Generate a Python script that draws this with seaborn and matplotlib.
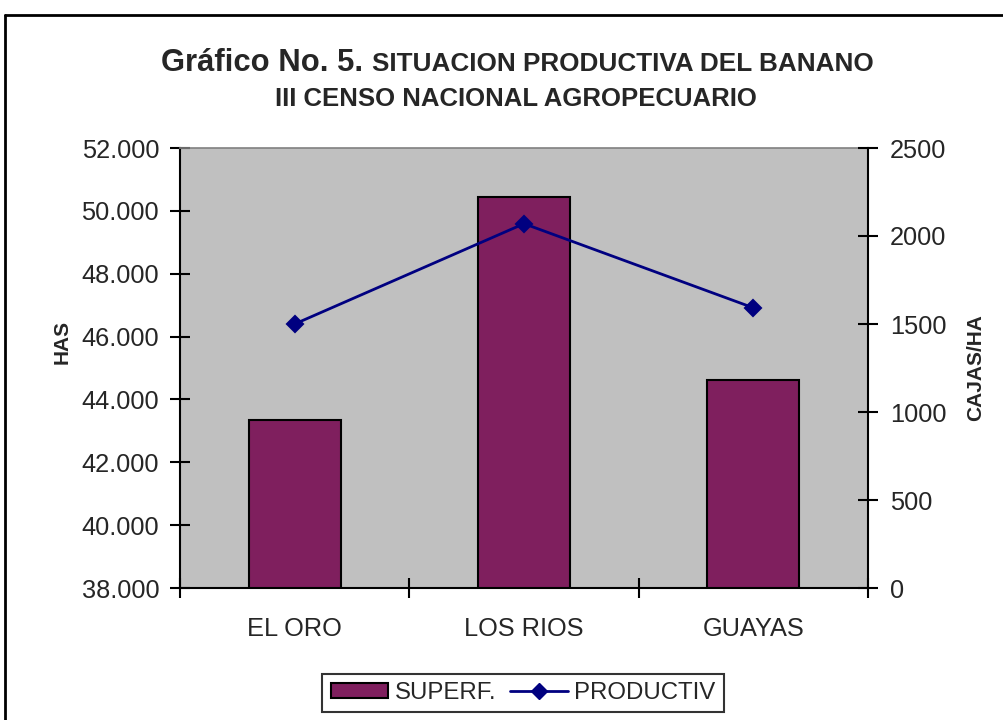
import matplotlib
matplotlib.use("Agg")
import matplotlib.pyplot as plt
from matplotlib.patches import Patch
from matplotlib.lines import Line2D
from matplotlib.ticker import FuncFormatter, FixedLocator
import seaborn as sns
import pandas as pd

# ---- data ----
categories = ["EL ORO", "LOS RIOS", "GUAYAS"]
superficie = [43.35, 50.43, 44.62]      # HAS (miles)
productividad = [1500, 2070, 1592]      # CAJAS/HA
left_ticks = [38, 40, 42, 44, 46, 48, 50, 52]
right_ticks = [0, 500, 1000, 1500, 2000, 2500]

bar_color = "#7F1F5E"
line_color = "#000080"
plot_bg = "#C0C0C0"

sns.set_theme(style="white")
plt.rcParams["font.family"] = ["Liberation Sans", "DejaVu Sans"]

df = pd.DataFrame({"cat": categories, "sup": superficie, "prod": productividad})

fig = plt.figure(figsize=(10.04, 7.2), dpi=100)
fig.patch.set_facecolor("white")
W, H = 1004, 720
ax = fig.add_axes([180 / W, 1 - 588 / H, 688 / W, 440 / H])
ax.set_facecolor(plot_bg)

sns.barplot(data=df, x="cat", y="sup", ax=ax, color=bar_color, saturation=1,
            width=0.4, edgecolor="black", linewidth=1.5, zorder=2)

ax2 = ax.twinx()
sns.pointplot(data=df, x="cat", y="prod", ax=ax2, color=line_color,
              markers="D", markersize=8, linewidth=2)

TS = 18.3

# left axis
ax.set_ylim(38, 52)
ax.yaxis.set_major_locator(FixedLocator(left_ticks))
ax.yaxis.set_major_formatter(FuncFormatter(lambda v, p: f"{v:.3f}"))
# right axis
ax2.set_ylim(0, 2500)
ax2.yaxis.set_major_locator(FixedLocator(right_ticks))
ax2.yaxis.set_major_formatter(FuncFormatter(lambda v, p: f"{int(v)}"))

# x axis: tick marks at category boundaries, labels in between
n = len(categories)
ax.set_xlim(-0.5, n - 0.5)
ax.set_xticks([i - 0.5 for i in range(n + 1)])
ax.set_xticklabels([""] * (n + 1))
ax.set_xticks(list(range(n)), minor=True)
ax.set_xticklabels(categories, minor=True)
ax.tick_params(axis="x", which="minor", length=0, pad=21, labelsize=TS)
ax.tick_params(axis="x", which="major", direction="inout", length=14, width=1.5,
               color="black", bottom=True)
ax.set_xlabel("")
ax.set_ylabel("")
ax2.set_ylabel("")

ax.tick_params(axis="y", direction="inout", length=14, width=1.5, color="black",
               labelsize=TS, pad=8, left=True)
ax2.tick_params(axis="y", direction="inout", length=14, width=1.5, color="black",
                labelsize=TS, pad=9, right=True)

for s in ["left", "bottom"]:
    ax.spines[s].set_color("black")
    ax.spines[s].set_linewidth(1.5)
ax.spines["top"].set_color("#808080")
ax.spines["top"].set_linewidth(1.2)
ax.spines["right"].set_visible(False)
for s in ["left", "bottom", "top"]:
    ax2.spines[s].set_visible(False)
ax2.spines["right"].set_color("black")
ax2.spines["right"].set_linewidth(1.5)
ax.grid(False)
ax2.grid(False)

# axis titles
fig.text(62 / W, 1 - 342 / H, "HAS", rotation=90, ha="center", va="center",
         fontsize=15, fontweight="bold")
fig.text(976 / W, 1 - 368 / H, "CAJAS/HA", rotation=90, ha="center", va="center",
         fontsize=15, fontweight="bold")

# title
fig.text(363 / W, 1 - 71 / H, "Gráfico No. 5.", ha="right", va="baseline",
         fontsize=22.3, fontweight="bold")
fig.text(372 / W, 1 - 71 / H, "SITUACION PRODUCTIVA DEL BANANO", ha="left",
         va="baseline", fontsize=18.8, fontweight="bold")
fig.text(516 / W, 1 - 106 / H, "III CENSO NACIONAL AGROPECUARIO", ha="center",
         va="baseline", fontsize=18.5, fontweight="bold")

# legend
handles = [Patch(facecolor=bar_color, edgecolor="black", linewidth=1.5),
           Line2D([], [], color=line_color, marker="D", markersize=8, linewidth=2)]
leg = fig.legend(handles, ["SUPERF.", "PRODUCTIV"], loc="center",
                 bbox_to_anchor=(523 / W, 1 - 693 / H), ncol=2, frameon=True,
                 fancybox=False, edgecolor="black", fontsize=17.3, handlelength=2.4,
                 handletextpad=0.25, columnspacing=0.6, borderpad=0.35,
                 handleheight=0.6)
leg.get_frame().set_linewidth(1.5)

# outer chart border (partially visible)
fig.add_artist(Line2D([5 / W, 5 / W], [0, 1 - 15 / H], color="black", lw=2,
                      transform=fig.transFigure))
fig.add_artist(Line2D([5 / W, 1], [1 - 15 / H, 1 - 15 / H], color="black", lw=2,
                      transform=fig.transFigure))

fig.savefig("out.png", dpi=100, facecolor="white")
